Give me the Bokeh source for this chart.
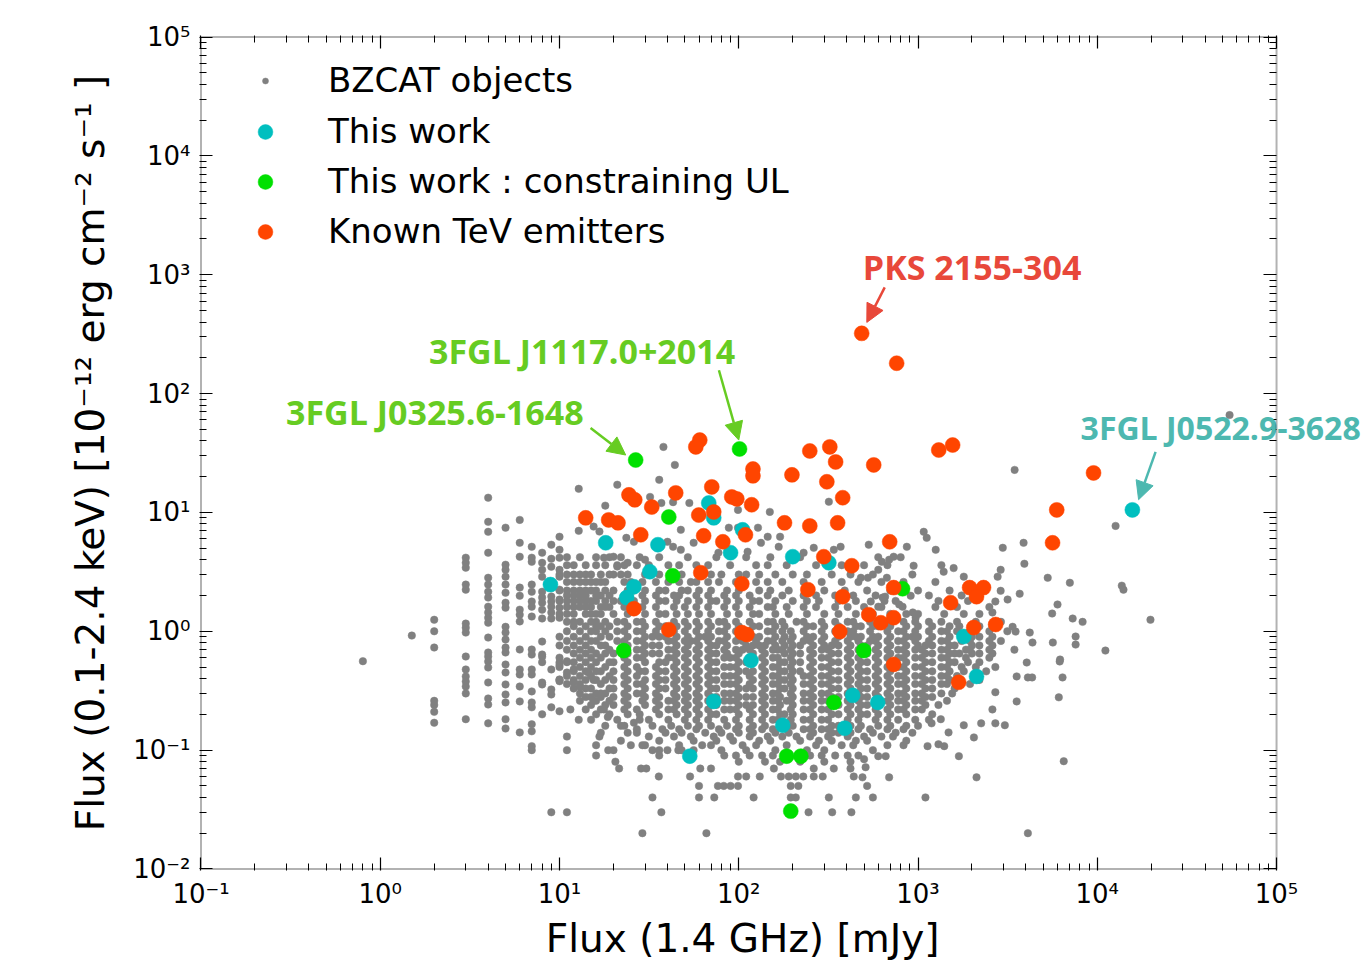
from bokeh.plotting import figure
from bokeh.models import (FixedTicker, LogAxis, Arrow, NormalHead, Label, Legend, LegendItem,
                          BoxAnnotation)
from bokeh.embed import file_html
from bokeh.resources import INLINE

# ---------------- axis ticks ----------------
x_ticks = [0.1, 1, 10, 100, 1000, 10000, 100000]
y_ticks = [0.01, 0.1, 1, 10, 100, 1000, 10000, 100000]
x_tick_labels = ["10⁻¹", "10⁰", "10¹", "10²", "10³", "10⁴", "10⁵"]
y_tick_labels = ["10⁻²", "10⁻¹", "10⁰", "10¹", "10²", "10³", "10⁴", "10⁵"]

# ---------------- highlighted samples ----------------
cyan_x = [15700, 8.9, 18.1, 35.4, 31.9, 26, 23.7, 68, 72.5, 105, 90, 200, 318, 117, 72.5, 176, 432, 390, 53.3, 2120, 596, 1800]
cyan_y = [10.5, 2.47, 5.55, 5.35, 3.17, 2.37, 1.92, 12.0, 9.0, 7.14, 4.58, 4.24, 3.77, 0.568, 0.257, 0.162, 0.289, 0.153, 0.089, 0.417, 0.252, 0.903]

green_x = [26.6, 101, 40.7, 42.8, 22.8, 820, 498, 339, 185, 222, 195]
green_y = [27.6, 34.2, 9.15, 2.93, 0.688, 2.28, 0.688, 0.252, 0.089, 0.089, 0.0307]

tev_x = [485, 760, 60.6, 57.6, 120, 120, 198, 249, 322, 347, 566, 1305, 1560, 310, 380, 180, 249, 356,
         9530, 5940, 5630, 70.7, 44.5, 24.4, 26.3, 32.7, 14.0, 18.8, 21.2, 91.4, 97.5, 72.5, 59.8, 118,
         28.4, 63.7, 81.5, 109, 695, 298, 427, 61.4, 104, 243, 380, 731, 26, 40.7, 104, 111, 366, 531,
         620, 731, 1520, 1940, 2320, 2120, 2045, 2710, 731, 1686]
tev_y = [321, 180, 40.6, 35.6, 23.2, 20.3, 20.7, 32.9, 35.6, 26.6, 25.1, 33.5, 36.9, 18.1, 13.3, 8.17, 7.7, 8.17,
         21.5, 10.5, 5.55, 16.4, 14.6, 14.05, 12.76, 11.1, 9.0, 8.65, 8.17, 13.5, 13.0, 10.1, 9.5, 11.6,
         6.48, 6.36, 5.66, 6.48, 5.66, 4.24, 3.56, 3.11, 2.51, 2.24, 1.955, 2.33, 1.55, 1.03, 0.975, 0.938, 0.994, 1.38,
         1.18, 1.30, 1.74, 2.33, 2.33, 1.955, 1.074, 1.14, 0.526, 0.372]

# ---------------- BZCAT objects ----------------
# columns at integer radio fluxes (mJy)
bz_cols_x = [0.8, 1.5, 2, 3, 4, 5, 6, 7, 8, 9, 10, 11]
bz_cols_y = [
    [0.56],
    [0.92],
    [1.25, 1.0, 0.73, 0.26, 0.24, 0.21, 0.17],
    [4.16, 3.77, 3.43, 2.47, 2.24, 1.16, 1.07, 0.975, 0.613, 0.477, 0.417, 0.378, 0.343, 0.30, 0.182],
    [13.3, 8.33, 6.87, 4.58, 2.82, 2.47, 2.15, 1.92, 1.61, 1.44, 1.30, 1.18, 0.885, 0.663, 0.613, 0.557, 0.496, 0.371, 0.272, 0.242, 0.168],
    [7.44, 3.63, 3.29, 2.88, 2.47, 2.11, 1.74, 1.58, 1.09, 0.975, 0.852, 0.73, 0.663, 0.525, 0.45, 0.357, 0.294, 0.252, 0.182, 0.152],
    [8.65, 5.55, 4.24, 2.33, 1.99, 1.52, 1.38, 1.21, 0.702, 0.477, 0.433, 0.343, 0.257, 0.141],
    [5.14, 4.16, 3.84, 2.47, 2.15, 1.78, 1.61, 1.33, 0.702, 0.637, 0.477, 0.433, 0.312, 0.252, 0.229, 0.165, 0.144, 0.108, 0.10],
    [4.58, 3.77, 3.29, 2.88, 2.15, 1.92, 1.74, 1.52, 1.28, 0.819, 0.637, 0.61, 0.55, 0.37, 0.357, 0.2],
    [5.35, 4.07, 3.49, 1.96, 1.78, 1.61, 1.44, 1.28, 0.477, 0.324, 0.294, 0.229, 0.03],
    [6.24, 4.85, 4.16, 3.29, 2.88, 2.24, 1.85, 1.58, 1.30, 0.546, 0.393, 0.212],
    [0.03],
]

# dense part of the cloud, read row by row (X-ray flux, list of radio fluxes)
bz_rows_y = [4.2, 3.6, 3.0, 2.6, 2.2, 2.0, 1.8, 1.6, 1.4, 1.2, 1.1, 1.0, 0.90, 0.83, 0.76, 0.70, 0.65, 0.60,
             0.55, 0.50, 0.46, 0.42, 0.39, 0.36, 0.33, 0.30, 0.28, 0.26, 0.24, 0.22, 0.20, 0.18, 0.16, 0.15,
             0.14, 0.13, 0.12, 0.11, 0.10, 0.09, 0.08]
bz_rows_x = [
    [11, 13, 16, 19, 22, 28, 36, 52, 75, 110, 150, 220, 300, 600, 800],
    [11, 12, 14, 16, 18, 21, 23, 27, 31.5, 40.5, 46.5, 58, 67.5, 89.5, 125, 145, 185, 270, 375, 500, 675, 1350],
    [10, 11, 12, 13, 14, 15, 17, 19, 20, 22, 24, 30, 36, 42, 48, 60, 70, 80, 100, 110, 130, 160, 200, 240, 330, 420, 560, 930],
    [11, 12, 13, 14, 15, 16, 17, 18, 23, 25, 29, 34.5, 40.5, 46.5, 54, 58, 67.5, 77.5, 96.5, 125, 145, 175, 230, 290, 375, 465, 625, 830, 1250],
    [10, 11, 12, 13, 14, 15, 16, 18, 20, 24, 26, 30, 36, 39, 48, 52, 60, 70, 86, 100, 130, 150, 190, 240, 300, 390, 520, 700, 1000, 1500],
    [11, 12, 13, 14, 16, 17, 19, 23, 29, 34.5, 43.5, 46.5, 58, 67.5, 83, 96.5, 115, 145, 175, 230, 270, 345, 435, 580, 1150, 1750],
    [10, 11, 12, 13, 14, 15, 16, 18, 20, 22, 24, 26, 30, 36, 39, 45, 52, 60, 70, 75, 86, 100, 120, 130, 160, 200, 240, 280, 360, 450, 650, 750, 1300, 1900],
    [11, 12, 13, 14, 15, 17, 18, 19, 23, 27, 29, 34.5, 43.5, 50, 58, 67.5, 83, 96.5, 115, 145, 155, 185, 230, 270, 345, 405, 500, 625, 1250, 1650, 2500],
    [10, 11, 12, 14, 15, 16, 17, 20, 24, 30, 36, 39, 45, 52, 60, 70, 86, 100, 120, 130, 160, 190, 240, 300, 360, 450, 560, 700, 860, 1000, 1400, 1800, 2200],
    [11, 12, 13, 15, 16, 18, 21, 23, 27, 29, 34.5, 43.5, 50, 58, 67.5, 77.5, 83, 96.5, 115, 145, 155, 175, 210, 230, 290, 345, 405, 435, 540, 675, 830, 965, 1150, 1350, 1650, 2100, 2900],
    [12, 14, 16, 17, 19, 24, 30, 36, 39, 45, 52, 60, 70, 86, 100, 120, 130, 160, 180, 240, 260, 300, 360, 450, 480, 560, 600, 700, 860, 1000, 1200, 1500, 1700, 2200, 2600],
    [11, 13, 15, 16, 18, 21, 23, 27, 29, 34.5, 43.5, 50, 58, 67.5, 77.5, 83, 96.5, 115, 145, 155, 175, 195, 230, 290, 345, 405, 435, 540, 675, 775, 830, 965, 1150, 1350, 1450, 1650, 1950, 2500, 3150],
    [10, 12, 14, 17, 19, 24, 30, 33, 36, 39, 45, 52, 60, 65, 70, 86, 100, 110, 120, 130, 160, 180, 200, 240, 260, 300, 360, 420, 450, 480, 560, 600, 700, 860, 930, 1000, 1200, 1500, 1800, 2000, 2200, 2600],
    [11, 13, 15, 16, 21, 23, 27, 29, 40.5, 43.5, 50, 54, 58, 67.5, 77.5, 83, 96.5, 105, 125, 145, 155, 175, 195, 230, 250, 290, 345, 405, 465, 540, 580, 675, 775, 830, 965, 1150, 1350, 1450, 1750, 1950, 2500, 2900],
    [10, 12, 14, 17, 18, 24, 30, 33, 36, 45, 52, 60, 70, 75, 86, 110, 120, 130, 140, 160, 180, 200, 220, 260, 300, 330, 360, 420, 480, 520, 600, 700, 860, 1000, 1100, 1200, 1500, 1600, 2000, 2200, 2600],
    [11, 13, 15, 19, 23, 27, 29, 40.5, 43.5, 50, 58, 67.5, 83, 96.5, 105, 115, 135, 155, 165, 175, 195, 250, 290, 315, 405, 465, 580, 675, 775, 830, 965, 1050, 1350, 1450, 1850, 1950, 2500, 3450],
    [12, 14, 16, 18, 20, 24, 30, 33, 36, 45, 52, 60, 70, 75, 86, 100, 120, 140, 180, 200, 220, 260, 330, 360, 420, 480, 520, 600, 700, 860, 1100, 1200, 1500, 1600, 1700, 2000, 2200, 2600],
    [10, 13, 15, 17, 23, 27, 29, 40.5, 43.5, 50, 58, 67.5, 83, 89.5, 96.5, 115, 135, 155, 165, 195, 250, 290, 315, 405, 465, 580, 675, 775, 830, 965, 1050, 1350, 1450, 1850, 2500],
    [11, 12, 14, 16, 19, 20, 24, 30, 36, 39, 45, 52, 60, 70, 75, 100, 110, 120, 140, 170, 180, 200, 220, 260, 330, 360, 420, 480, 520, 600, 700, 860, 1100, 1200, 1500, 1600, 1900, 2200],
    [10, 13, 15, 18, 23, 27, 34.5, 43.5, 50, 58, 67.5, 83, 89.5, 96.5, 135, 155, 165, 195, 250, 290, 315, 405, 465, 580, 675, 775, 830, 965, 1050, 1350, 1450, 1750, 2100, 2700],
    [12, 14, 16, 17, 20, 24, 28, 30, 36, 39, 45, 52, 60, 70, 75, 100, 110, 120, 140, 170, 180, 200, 220, 260, 330, 360, 420, 480, 520, 600, 700, 860, 1100, 1200, 1500, 1800, 2400],
    [11, 13, 15, 19, 23, 27, 34.5, 43.5, 50, 58, 67.5, 83, 89.5, 96.5, 115, 135, 155, 165, 195, 230, 250, 290, 315, 405, 465, 580, 675, 775, 830, 965, 1050, 1350, 1450, 1650, 2100],
    [10, 12, 14, 16, 18, 20, 24, 30, 36, 39, 45, 52, 60, 70, 75, 100, 120, 140, 170, 180, 200, 260, 330, 360, 420, 480, 520, 600, 700, 860, 1100, 1200, 1500, 1700, 2200],
    [11, 13, 17, 23, 27, 29, 34.5, 43.5, 50, 58, 67.5, 83, 89.5, 96.5, 115, 135, 155, 165, 195, 230, 250, 290, 315, 405, 465, 580, 675, 775, 830, 965, 1050, 1350, 1450, 1950],
    [12, 14, 15, 19, 20, 24, 30, 36, 39, 45, 52, 60, 70, 75, 100, 110, 120, 140, 170, 180, 200, 260, 330, 360, 420, 480, 520, 600, 700, 860, 1100, 1200, 1600],
    [13, 16, 18, 23, 27, 29, 34.5, 43.5, 50, 58, 67.5, 83, 89.5, 96.5, 135, 155, 165, 195, 230, 250, 290, 315, 405, 465, 580, 675, 775, 830, 965, 1050, 1350, 1550],
    [14, 15, 17, 20, 24, 30, 36, 45, 52, 60, 70, 75, 100, 110, 120, 140, 170, 200, 260, 330, 360, 420, 480, 520, 600, 700, 860, 1100, 1200],
    [13, 16, 19, 23, 29, 34.5, 40.5, 43.5, 50, 58, 67.5, 83, 89.5, 96.5, 135, 155, 165, 185, 195, 230, 250, 290, 315, 405, 465, 580, 675, 775, 830, 965, 1050, 1450],
    [15, 18, 20, 24, 30, 36, 45, 52, 60, 70, 75, 100, 110, 120, 140, 170, 200, 260, 330, 360, 420, 480, 520, 600, 700, 860, 1100, 1300],
    [14, 17, 23, 27, 34.5, 40.5, 43.5, 50, 58, 67.5, 83, 89.5, 96.5, 115, 135, 155, 165, 195, 230, 250, 290, 315, 405, 465, 580, 675, 775, 830, 965, 1050],
    [16, 19, 24, 28, 36, 45, 52, 60, 70, 75, 100, 120, 140, 170, 180, 200, 260, 330, 360, 420, 480, 520, 600, 700, 860, 1200],
    [15, 21, 31.5, 40.5, 50, 58, 67.5, 83, 96.5, 115, 135, 155, 165, 195, 230, 250, 290, 315, 405, 465, 580, 675, 775, 965, 1150],
    [18, 22, 33, 42, 52, 60, 70, 86, 100, 120, 140, 170, 200, 260, 330, 360, 420, 480, 600, 700, 860, 1000],
    [27, 37.5, 46.5, 58, 77.5, 96.5, 115, 135, 155, 185, 230, 250, 290, 315, 405, 465, 540, 675, 830],
    [17, 24, 39, 48, 65, 80, 100, 120, 160, 190, 260, 330, 360, 420, 560, 750, 930],
    [31.5, 43.5, 54, 72.5, 89.5, 115, 145, 175, 210, 250, 315, 405, 500, 625, 725],
    [22, 36, 56, 75, 93, 130, 150, 220, 280, 330, 450, 520, 860],
    [29, 46.5, 62.5, 105, 125, 185, 270, 375, 435, 675, 830],
    [20, 33, 48, 80, 110, 160, 240, 300, 560],
    [83, 96.5, 115, 135, 155, 250, 290, 345, 405, 465],
    [100, 140, 170, 220, 300, 420],
]

# scattered objects read individually (radio mJy, X-ray flux)
bz_pts = [
    (38, 35.6), (44, 25.1), (36, 18.8), (21, 17.1), (12.8, 15.8), (3460, 22.8), (12650, 7.7), (54700, 65.9),
    (32, 13.5), (37, 12.0), (43, 12.2), (53, 12.0), (18, 11.4), (99, 10.5), (149, 10.1), (318, 12.3),
    (88, 7.44), (99, 7.44), (128, 7.44), (145, 6.24), (170, 6.24), (47.5, 7.14), (56, 5.55), (339, 4.85),
    (370, 5.14), (262, 5.04), (230, 4.58), (167, 5.14), (133, 5.55), (112, 4.67), (77, 4.58), (531, 5.35),
    (866, 5.14), (1076, 6.87), (1118, 6.11), (1255, 4.85), (2970, 5.04), (3880, 5.55), (3920, 3.7), (945, 3.56),
    (731, 4.24), (690, 4.0), (628, 3.84), (600, 3.29), (1390, 3.17), (1580, 3.4), (1800, 2.88), (2890, 3.29),
    (2780, 2.88), (5290, 2.82), (7030, 2.56), (13700, 2.42), (14000, 2.24), (2890, 2.19), (3690, 2.07),
    (2700, 1.78), (3160, 1.85), (6000, 1.68), (5600, 1.41), (7290, 1.28), (8280, 1.2), (2600, 1.44),
    (4200, 0.975), (4350, 0.804), (5650, 0.804), (7570, 0.903), (7570, 0.773), (11100, 0.688), (6200, 0.578),
    (3370, 1.09), (3500, 0.994), (525, 2.82), (480, 2.82), (670, 2.82), (655, 1.955), (635, 1.92), (910, 1.99),
    (785, 1.68), (820, 1.61), (545, 1.78), (600, 1.61), (935, 1.44), (970, 1.30), (19800, 1.25), (4040, 0.546),
    (6170, 0.557), (3550, 0.417), (4100, 0.409), (4330, 0.409), (6400, 0.409), (2700, 0.307), (3550, 0.257),
    (6100, 0.278), (2600, 0.22), (2250, 0.168), (2700, 0.168), (3050, 0.162), (1800, 0.162), (1480, 0.141),
    (2050, 0.128), (1340, 0.182), (1190, 0.168), (1130, 0.108), (1300, 0.112), (1400, 0.108), (6500, 0.0807),
    (1690, 0.089), (2120, 0.059), (690, 0.059), (600, 0.089), (660, 0.089), (520, 0.05), (560, 0.04),
    (1100, 0.04), (4100, 0.02), (500, 0.084), (510, 0.0718), (490, 0.059),
    (23.6, 6.11), (26, 5.66), (40, 5.66), (43, 5.14), (47.5, 4.85), (17.7, 4.16), (20, 4.24), (21, 3.5),
    (24, 3.77), (30, 4.0), (15.5, 7.6), (16.7, 6.9), (12.8, 7.0),
    (21.5, 0.07), (28.5, 0.07), (30.5, 0.07), (35.8, 0.06), (53.5, 0.06), (61, 0.07), (70, 0.07), (60, 0.05),
    (76.5, 0.05), (82.5, 0.05), (90, 0.05), (99, 0.05), (99, 0.06), (110, 0.06), (131, 0.06), (157, 0.07),
    (172, 0.06), (190, 0.06), (208, 0.06), (229, 0.06), (262, 0.06), (294, 0.06), (339, 0.07), (438, 0.06),
    (195, 0.05), (215, 0.05), (262, 0.07), (420, 0.07), (33, 0.04), (37, 0.03), (60, 0.04), (73, 0.04),
    (121, 0.04), (195, 0.04), (208, 0.04), (245, 0.03), (318, 0.04), (332, 0.03), (425, 0.03), (450, 0.04),
    (29, 0.02), (66, 0.02), (20.5, 0.08), (18.7, 0.10), (36, 0.10), (40, 0.10), (46, 0.10), (56, 0.10),
    (70, 0.11), (25, 0.11), (30, 0.11), (27, 0.14), (23, 0.16), (26, 0.17), (28, 0.18), (16, 0.09), (36, 0.09),
    (10, 0.38), (11, 0.45), (12, 0.37), (13, 0.34), (11.5, 0.22), (12.8, 0.18), (10, 0.52), (11, 0.56),
    (12, 0.48), (14.5, 0.45), (15.5, 0.39), (17, 0.30), (15.5, 0.26), (17.7, 0.22), (18.6, 0.19), (11, 0.13),
    (11, 0.10), (16.7, 0.13), (16, 0.11),
]

# ---------------- assemble BZCAT ----------------
gx, gy = [], []
for xv, ys in zip(bz_cols_x, bz_cols_y):
    for yv in ys:
        gx.append(xv); gy.append(yv)
for yv, xs in zip(bz_rows_y, bz_rows_x):
    for xv in xs:
        gx.append(xv); gy.append(yv)
for xv, yv in bz_pts:
    gx.append(xv); gy.append(yv)

# ---------------- figure ----------------
# The plot box spans 0.1-1e5 x 0.01-1e5.  The drawing frame is a little larger
# (so the box line is not clipped) and runs to the right edge of the page so
# that the J0522.9-3628 annotation may run past the box, as in the original.
X_MIN, X_MAX = 0.1, 1e5
Y_MIN, Y_MAX = 0.01, 1e5
FRAME_X = (0.0981, 3.43e5)
FRAME_Y = (0.00971, 1.0295e5)

p = figure(width=1372, height=963, x_axis_type="log", y_axis_type="log",
           x_range=FRAME_X, y_range=FRAME_Y,
           output_backend="svg", toolbar_location=None,
           min_border_left=199, min_border_right=0, min_border_top=35, min_border_bottom=93,
           background_fill_color="white", border_fill_color="white")
p.grid.visible = False
p.outline_line_color = None

x_minor = [m * t for t in x_ticks[:-1] for m in range(2, 10)]
y_minor = [m * t for t in y_ticks[:-1] for m in range(2, 10)]


def style_axis(ax, ticks, minor, labels, show):
    ax.ticker = FixedTicker(ticks=ticks, minor_ticks=minor)
    ax.axis_line_color = None
    ax.major_tick_in = 13
    ax.major_tick_out = 0
    ax.minor_tick_in = 7
    ax.minor_tick_out = 0
    ax.major_tick_line_color = "black"
    ax.minor_tick_line_color = "black"
    ax.major_tick_line_width = 1.2
    ax.minor_tick_line_width = 1
    if show:
        ax.major_label_overrides = dict(zip(ticks, labels))
        ax.major_label_text_font = "DejaVu Sans"
        ax.major_label_text_font_size = "26px"
        ax.major_label_text_color = "black"
        ax.major_label_standoff = 8
    else:
        ax.major_label_overrides = {t: "" for t in ticks}
        ax.major_label_text_font_size = "0px"
        ax.major_label_standoff = 0


style_axis(p.xaxis[0], x_ticks, x_minor, x_tick_labels, True)
style_axis(p.yaxis[0], y_ticks, y_minor, y_tick_labels, True)
p.yaxis[0].major_label_standoff = 9

NBSP = "\u00a0"
# the frame runs past the plot box, so the centred label is padded to sit under the box
p.xaxis[0].axis_label = "Flux (1.4 GHz) [mJy]" + NBSP * 7
p.yaxis[0].axis_label = "Flux (0.1-2.4 keV) [10⁻¹² erg cm⁻² s⁻¹ ]"
for ax in (p.xaxis[0], p.yaxis[0]):
    ax.axis_label_text_font = "DejaVu Sans"
    ax.axis_label_text_font_size = "39px"
    ax.axis_label_text_font_style = "normal"
    ax.axis_label_text_color = "black"
p.xaxis[0].axis_label_standoff = 4
p.yaxis[0].axis_label_standoff = 17

top_ax = LogAxis()
style_axis(top_ax, x_ticks, x_minor, x_tick_labels, False)
p.add_layout(top_ax, "above")

right_ax = LogAxis(fixed_location=X_MAX)
style_axis(right_ax, y_ticks, y_minor, y_tick_labels, False)
p.add_layout(right_ax, "right")

# plot box
p.add_layout(BoxAnnotation(left=X_MIN, right=X_MAX, bottom=Y_MIN, top=Y_MAX,
                           fill_alpha=0, line_color="black", line_width=2, level="overlay"))

# ---------------- data ----------------
r_gray = p.scatter(gx, gy, marker="circle", size=7.5, fill_color="#808080", line_color="#808080", line_width=0.5)
r_cyan = p.scatter(cyan_x, cyan_y, marker="circle", size=15, fill_color="#00BFBF", line_color="#00BFBF", line_width=0.5)
r_green = p.scatter(green_x, green_y, marker="circle", size=15, fill_color="#00E000", line_color="#00E000", line_width=0.5)
r_red = p.scatter(tev_x, tev_y, marker="circle", size=15, fill_color="#FF4500", line_color="#FF4500", line_width=0.5)

# ---------------- legends ----------------
leg_common = dict(margin=0, padding=10, spacing=10, glyph_width=40, label_height=40,
                  label_standoff=43, label_text_font="DejaVu Sans", label_text_font_size="34px",
                  label_text_color="black", border_line_alpha=0, background_fill_alpha=0)
leg1 = Legend(items=[LegendItem(label="BZCAT objects", renderers=[r_gray])],
              location=(36, 760), glyph_height=15, **leg_common)
leg2 = Legend(items=[LegendItem(label="This work", renderers=[r_cyan]),
                     LegendItem(label="This work : constraining UL", renderers=[r_green]),
                     LegendItem(label="Known TeV emitters", renderers=[r_red])],
              location=(36, 609), glyph_height=37, **leg_common)
p.add_layout(leg1)
p.add_layout(leg2)

# ---------------- annotations ----------------
ann_font = dict(text_font="Open Sans", text_font_style="bold", text_font_size="34px",
                text_baseline="middle", text_align="left")

RED_T, GREEN_T, TEAL_T = "#E8483A", "#66CC22", "#4DB8B0"


def arrow(color, xs, ys, xe, ye):
    return Arrow(end=NormalHead(size=18, fill_color=color, line_color=color),
                 x_start=xs, y_start=ys, x_end=xe, y_end=ye, line_color=color, line_width=2.5)


p.add_layout(Label(x=492, y=1172, text="PKS 2155-304", text_color=RED_T, **ann_font))
p.add_layout(arrow(RED_T, 652, 782, 518, 397))

p.add_layout(Label(x=1.87, y=227, text="3FGL J1117.0+2014", text_color=GREEN_T, **ann_font))
p.add_layout(arrow(GREEN_T, 77.5, 157, 100, 40.6))

p.add_layout(Label(x=0.298, y=69.8, text="3FGL J0325.6-1648", text_color=GREEN_T, **ann_font))
p.add_layout(arrow(GREEN_T, 14.9, 51.3, 23.4, 30.4))

ann_small = dict(ann_font, text_font_size="32px")
p.add_layout(Label(x=8070, y=52.3, text="3FGL J0522.9-3628", text_color=TEAL_T, **ann_small))
p.add_layout(arrow(TEAL_T, 21150, 32.3, 17000, 12.8))

open("out.html", "w").write(file_html(p, INLINE))
